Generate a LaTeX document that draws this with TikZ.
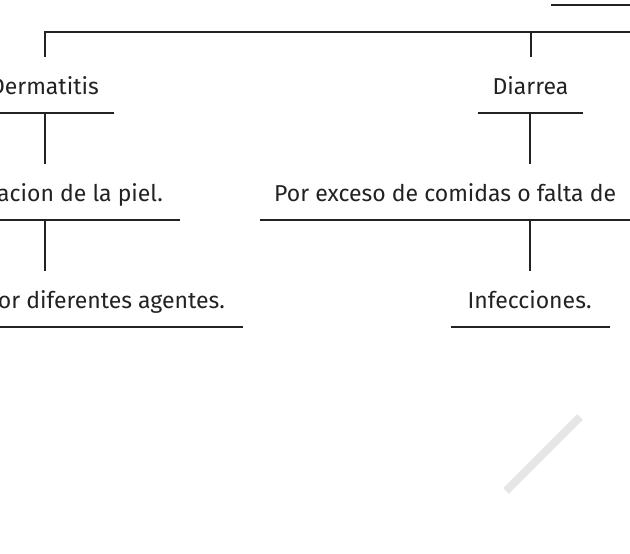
\documentclass[tikz,border=0pt]{standalone}
\usepackage{fontspec}
\setmainfont{Fira Sans}
\definecolor{ink}{RGB}{34,34,34}
\definecolor{wm}{RGB}{230,230,230}
\begin{document}
\begin{tikzpicture}[x=1pt,y=-1pt,
  lbl/.style={inner sep=0pt,text=ink,font=\fontsize{23}{27}\selectfont},
  ln/.style={line width=1.6pt,ink}]
\useasboundingbox (0,0) rectangle (630,554);
\clip (0,0) rectangle (630,554);
% coordinates
\coordinate (top0) at (551,5); \coordinate (top1) at (640,5);
\coordinate (barL) at (45,32); \coordinate (barR) at (640,32); \coordinate (barM) at (531,32);
\coordinate (vL) at (45,57); \coordinate (vR) at (531,57);
% left column
\node[lbl,anchor=base east] (derm) at (99,94) {Dermatitis};
\coordinate (dermL) at (-5,113); \coordinate (dermR) at (114,113); \coordinate (dermB) at (45,113);
\node[lbl,anchor=base east] (piel) at (163,201) {acion de la piel.};
\coordinate (pielL) at (-5,220); \coordinate (pielR) at (180,220); \coordinate (pielT) at (45,164); \coordinate (pielB) at (45,220);
\node[lbl,anchor=base east] (agen) at (225,308) {or diferentes agentes.};
\coordinate (agenL) at (-5,327); \coordinate (agenR) at (243,327); \coordinate (agenT) at (45,271);
% right column
\node[lbl,anchor=base] (diar) at (530.5,94) {Diarrea};
\coordinate (diarL) at (478,113); \coordinate (diarR) at (583,113); \coordinate (diarB) at (530,113);
\node[lbl,anchor=base west] (exce) at (274,201) {Por exceso de comidas o falta de};
\coordinate (exceL) at (260,220); \coordinate (exceR) at (640,220); \coordinate (exceT) at (530,164); \coordinate (exceB) at (530,220);
\node[lbl,anchor=base] (infe) at (529.5,308) {Infecciones.};
\coordinate (infeL) at (451,327); \coordinate (infeR) at (610,327); \coordinate (infeT) at (530,271);
% lines
\draw[ln] (top0) -- (top1);
\draw[ln] (barR) -- (barL) -- (vL);
\draw[ln] (barM) -- (vR);
\draw[ln] (dermL) -- (dermR);
\draw[ln] (dermB) -- (pielT);
\draw[ln] (pielL) -- (pielR);
\draw[ln] (pielB) -- (agenT);
\draw[ln] (agenL) -- (agenR);
\draw[ln] (diarL) -- (diarR);
\draw[ln] (diarB) -- (exceT);
\draw[ln] (exceL) -- (exceR);
\draw[ln] (exceB) -- (infeT);
\draw[ln] (infeL) -- (infeR);
% watermark stroke
\coordinate (w1) at (580,417); \coordinate (w2) at (506,491);
\draw[line width=8pt,wm] (w1) -- (w2);
\end{tikzpicture}
\end{document}
